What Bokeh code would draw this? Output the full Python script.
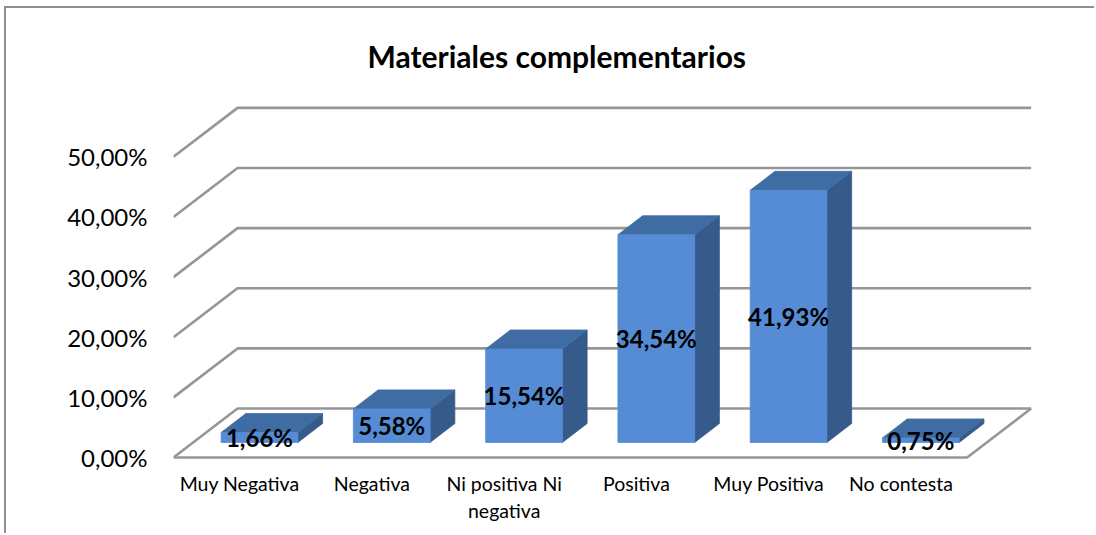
from bokeh.plotting import figure
from bokeh.models import Range1d, FixedTicker, Title
from bokeh.core.properties import value
from bokeh.embed import file_html
from bokeh.resources import INLINE

categories = ["Muy Negativa", "Negativa", "Ni positiva Ni\nnegativa", "Positiva", "Muy Positiva", "No contesta"]
values = [1.66, 5.58, 15.54, 34.54, 41.93, 0.75]
data_labels = ["1,66%", "5,58%", "15,54%", "34,54%", "41,93%", "0,75%"]
y_ticks = [0, 10, 20, 30, 40, 50]
y_tick_labels = ["0,00%", "10,00%", "20,00%", "30,00%", "40,00%", "50,00%"]

FONT = "Lato"
ML, MT = 4, 6                         # where the chart's outer frame starts
BORDER = 2
W, H = 1096 - ML - 2 * BORDER, 535 - MT - 2 * BORDER
LEFT, TOP, BOTTOM = 173 - ML - BORDER, 95 - MT - BORDER, 75
PX_X, PX_Y = 132.3, 6.02
FLOOR_DX, FLOOR_DY = 0.484, 8.14      # depth of the chart's floor
BAR_DX, BAR_DY = 0.187, 3.16          # depth of a bar
BAR_SHIFT, BAR_BASE, BAR_HALF = 0.15, 2.5, 0.29

x0 = -0.5
x1 = x0 + (W - LEFT + 2.2) / PX_X
y0 = -3 / PX_Y
y1 = y0 + (H - TOP - BOTTOM + 2.4) / PX_Y

p = figure(width=W, height=H, output_backend="svg", toolbar_location=None,
           x_range=Range1d(x0, x1), y_range=Range1d(y0, y1),
           min_border_left=LEFT, min_border_right=0, min_border_top=TOP, min_border_bottom=BOTTOM,
           margin=(MT, 0, 0, ML), outline_line_color=None, background_fill_color="white",
           border_fill_color="white",
           styles={"border-left": "2px solid #8F8F8F", "border-top": "2px solid #8F8F8F",
                   "box-sizing": "content-box"})
p.grid.visible = False

p.title = Title(text="Materiales complementarios", text_font=FONT, text_font_size="30px",
                text_font_style="bold", text_color="#000000", align="left", offset=194,
                vertical_align="top", standoff=40)

p.yaxis.ticker = FixedTicker(ticks=y_ticks)
p.yaxis.major_label_overrides = dict(zip(y_ticks, y_tick_labels))
p.yaxis.axis_line_color = None
p.yaxis.major_tick_line_color = None
p.yaxis.minor_tick_line_color = None
p.yaxis.major_label_text_font = FONT
p.yaxis.major_label_text_font_size = "24px"
p.yaxis.major_label_text_color = "#000000"
p.yaxis.major_label_standoff = 20

idx = list(range(len(categories)))
p.xaxis.ticker = FixedTicker(ticks=idx)
p.xaxis.major_label_overrides = dict(zip(idx, categories))
p.xaxis.axis_line_color = None
p.xaxis.major_tick_line_color = None
p.xaxis.minor_tick_line_color = None
p.xaxis.major_label_text_font = FONT
p.xaxis.major_label_text_font_size = "19.5px"
p.xaxis.major_label_text_color = "#000000"
p.xaxis.major_label_standoff = 5

GRID = "#969696"
xs_front, xs_right = -0.5, 5.5
for t in y_ticks:
    p.line([xs_front, xs_front + FLOOR_DX, xs_right + FLOOR_DX],
           [t, t + FLOOR_DY, t + FLOOR_DY], line_color=GRID, line_width=2.6)
p.line([xs_front, xs_right, xs_right + FLOOR_DX], [0, 0, FLOOR_DY], line_color=GRID, line_width=2.6)

for i, v in enumerate(values):
    l = i + BAR_SHIFT - BAR_HALF
    r = i + BAR_SHIFT + BAR_HALF
    b = BAR_BASE
    t = BAR_BASE + v
    p.patch([r, r + BAR_DX, r + BAR_DX, r], [b, b + BAR_DY, t + BAR_DY, t], fill_color="#365B8A", line_color="#365B8A", line_width=0.8)
    p.patch([l, l + BAR_DX, r + BAR_DX, r], [t, t + BAR_DY, t + BAR_DY, t], fill_color="#3F6CA3", line_color="#3F6CA3", line_width=0.8)
    p.quad(left=l, right=r, bottom=b, top=t, fill_color="#568CD5", line_color="#568CD5", line_width=0.8)

p.text(x=[i + BAR_SHIFT for i in idx], y=[BAR_BASE + v / 2 for v in values], text=data_labels,
       text_font=value(FONT), text_font_size="24px", text_font_style="bold", text_color="#000000",
       text_align="center", text_baseline="middle")

open("out.html", "w").write(file_html(p, INLINE))
